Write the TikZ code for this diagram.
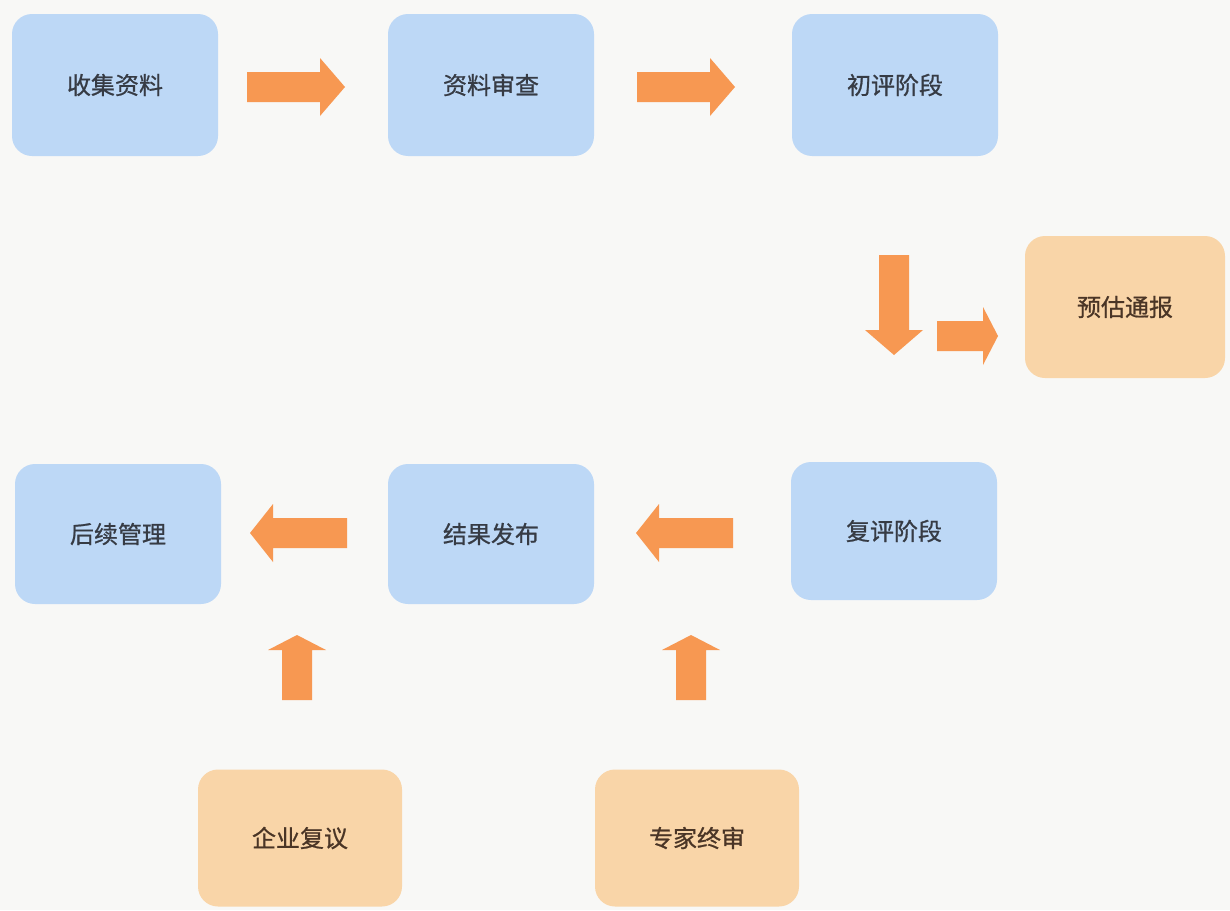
\documentclass[tikz,border=0pt]{standalone}
\usepackage{fontspec}
\newfontfamily\cjk[FakeBold=0.8]{Noto Sans CJK SC}
\usepackage{tikz}

\definecolor{paper}{HTML}{F8F8F6}
\definecolor{stepblue}{HTML}{BDD8F6}
\definecolor{stepsand}{HTML}{F9D5A8}
\definecolor{arrowfill}{HTML}{F79852}
\definecolor{bluetext}{HTML}{363B44}
\definecolor{sandtext}{HTML}{4A3526}

\tikzset{
  stagebox/.style={rounded corners=10pt, minimum width=103pt, minimum height=71pt,
    inner sep=0pt, font=\cjk\fontsize{12}{14}\selectfont},
  bluebox/.style={stagebox, fill=stepblue, text=bluetext},
  sandbox/.style={stagebox, fill=stepsand, text=sandtext}
}

% block arrow: start point, angle, total length, head length
\newcommand{\blockarrow}[4]{
  \fill[arrowfill, shift={#1}, rotate=#2]
    (0,-15) -- ({#3-#4},-15) -- ({#3-#4},-29) -- (#3,0) -- ({#3-#4},29) -- ({#3-#4},15) -- (0,15) -- cycle;
}

\begin{document}
\begin{tikzpicture}[x=0.5pt,y=-0.5pt]
	\fill[paper] (0,0) rectangle (1230,910);
	\useasboundingbox (0,0) rectangle (1230,910);

	% upper row
	\node[bluebox] (collect) at (115,85) {收集资料};
	\node[bluebox] (review) at (491,85) {资料审查};
	\node[bluebox] (first) at (895,85) {初评阶段};
	\node[sandbox, minimum width=100pt] (notice) at (1125,307) {预估通报};

	% lower row
	\node[bluebox, minimum height=70pt] (follow) at (118,534) {后续管理};
	\node[bluebox, minimum height=70pt] (publish) at (491,534) {结果发布};
	\node[bluebox, minimum height=69pt] (second) at (894,531) {复评阶段};
	\node[sandbox, minimum width=102pt, minimum height=68.5pt] (appeal) at (300,838) {企业复议};
	\node[sandbox, minimum width=102pt, minimum height=68.5pt] (expert) at (697,838) {专家终审};

	% arrows (y axis points down, so the angles turn the other way)
	\blockarrow{(247,87)}{0}{98}{25}
	\blockarrow{(637,87)}{0}{98}{25}
	\blockarrow{(894,255)}{-90}{100}{25}
	\blockarrow{(937,336)}{0}{61}{15}
	\blockarrow{(347,533)}{180}{97}{23}
	\blockarrow{(733,533)}{180}{97}{23}
	\blockarrow{(297,700)}{90}{65}{15}
	\blockarrow{(691,700)}{90}{65}{15}
\end{tikzpicture}
\end{document}
